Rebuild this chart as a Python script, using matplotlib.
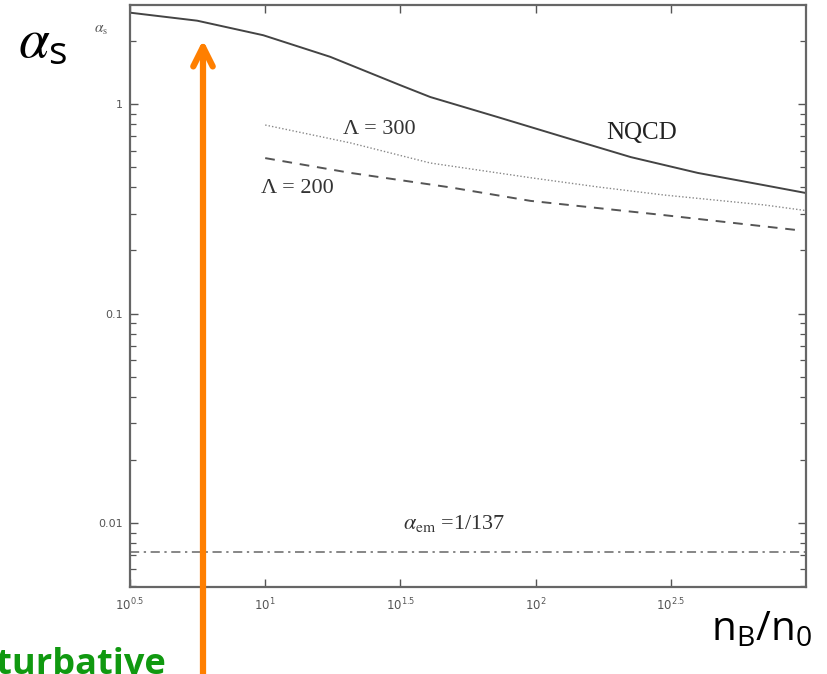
import numpy as np
import matplotlib
matplotlib.use("Agg")
import matplotlib.pyplot as plt
from matplotlib.patches import FancyArrowPatch
from matplotlib.ticker import FixedLocator, FixedFormatter, LogLocator, NullLocator

# ---- data ----
nqcd_x = [3.162, 5.60, 9.84, 17.4, 31.6, 40.8, 72.3, 127, 225, 398, 699, 1000]
nqcd_y = [2.73, 2.50, 2.13, 1.68, 1.23, 1.08, 0.867, 0.696, 0.558, 0.469, 0.410, 0.376]

lam300_x = [10.0, 20.7, 40.8, 95.7, 170, 298, 699, 1000]
lam300_y = [0.794, 0.652, 0.523, 0.445, 0.402, 0.368, 0.330, 0.310]

lam200_x = [10.0, 20.7, 48.4, 95.7, 298, 933]
lam200_y = [0.552, 0.469, 0.400, 0.345, 0.295, 0.250]

alpha_em_x = [10**0.5, 1000]
alpha_em_y = [1 / 137, 1 / 137]

xtick_vals = [10**0.5, 10**1, 10**1.5, 10**2, 10**2.5]
xtick_labels = [r"$10^{0.5}$", r"$10^{1}$", r"$10^{1.5}$", r"$10^{2}$", r"$10^{2.5}$"]
ytick_vals = [0.01, 0.1, 1]
ytick_labels = ["0.01", "0.1", "1"]

W, H = 827, 674
fig = plt.figure(figsize=(W / 100, H / 100), dpi=100)
fig.patch.set_facecolor("white")

ax = fig.add_axes([130 / W, 1 - 587 / H, (806 - 130) / W, (587 - 5) / H])
ax.set_xscale("log")
ax.set_yscale("log")
ax.set_xlim(10**0.5, 1000)
ax.set_ylim(0.00495, 2.97)

ax.plot(nqcd_x, nqcd_y, color="#444444", lw=1.4)
ax.plot(lam300_x, lam300_y, color="#888888", lw=1.0, linestyle=(0, (1, 1.5)))
ax.plot(lam200_x, lam200_y, color="#555555", lw=1.4, linestyle=(0, (5, 4)))
ax.plot(alpha_em_x, alpha_em_y, color="#666666", lw=1.1, linestyle=(0, (6, 3, 1.5, 3)))

for s in ax.spines.values():
    s.set_color("#666666")
    s.set_linewidth(1.6)

ax.xaxis.set_major_locator(FixedLocator(xtick_vals))
ax.xaxis.set_major_formatter(FixedFormatter(xtick_labels))
ax.xaxis.set_minor_locator(NullLocator())
ax.yaxis.set_major_locator(FixedLocator(ytick_vals))
ax.yaxis.set_major_formatter(FixedFormatter(ytick_labels))
ax.yaxis.set_minor_locator(LogLocator(base=10, subs=np.arange(2, 10)))
ax.yaxis.set_minor_formatter(FixedFormatter([]))

ax.tick_params(axis="both", which="both", direction="in", top=True, right=True,
               color="#555555", labelcolor="#555555")
ax.tick_params(axis="x", which="major", labelsize=8.5, length=6, width=1.0, pad=7)
ax.tick_params(axis="y", which="major", labelsize=8, length=6, width=1.0, pad=5)
ax.tick_params(axis="y", which="minor", length=4, width=0.9)

serif = "Liberation Serif"
tc = "#333333"
fig.text(379 / W, 1 - 130 / H, "Λ = 300", fontsize=16, family=serif, color=tc,
         ha="center", va="center")
fig.text(297 / W, 1 - 188 / H, "Λ = 200", fontsize=16, family=serif, color=tc,
         ha="center", va="center")
fig.text(642 / W, 1 - 133 / H, "NQCD", fontsize=18, family=serif, color="#222222",
         ha="center", va="center")
plt.rcParams["mathtext.fontset"] = "stix"
fig.text(403 / W, 1 - 524 / H, r"$\alpha_{\mathrm{em}}$ =1/137", fontsize=16,
         family=serif, color=tc, ha="left", va="center")
fig.text(101 / W, 1 - 30 / H, r"$\alpha_{\mathrm{s}}$", fontsize=11, color="#555555",
         ha="center", va="center")

# big overlay labels
fig.text(18 / W, 1 - 42 / H, r"$\mathit{\alpha}_{\mathregular{s}}$", fontsize=40,
         family="Open Sans", color="black", ha="left", va="center")
fig.text(711 / W, 1 - 630 / H, r"$\mathregular{n_B/n_0}$", fontsize=29,
         family="Open Sans", color="black", ha="left", va="center")

# green cut-off label
fig.text(166 / W, 1 - 674 / H, "Non-perturbative", fontsize=26, family="Open Sans",
         fontweight="bold", color="#109910", ha="right", va="baseline")

# orange arrow
fig.add_artist(FancyArrowPatch(
    (203 / W, -0.02), (203 / W, 1 - 40 / H), transform=fig.transFigure,
    arrowstyle="->,head_length=14,head_width=7", color="#ff7f00", lw=4.5,
    mutation_scale=1, shrinkA=0, shrinkB=0, capstyle="round", joinstyle="round"))

fig.savefig("out.png", dpi=100, facecolor="white")
